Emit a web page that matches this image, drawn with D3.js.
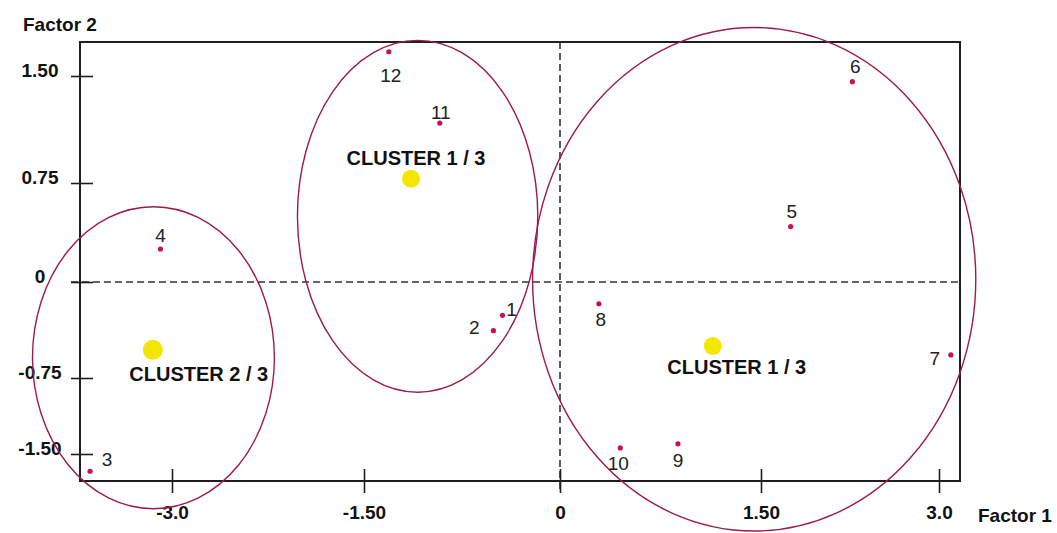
<!DOCTYPE html>
<html>
<head>
<meta charset="utf-8">
<script src="https://cdn.jsdelivr.net/npm/d3@7"></script>
<style>
  html, body { margin: 0; padding: 0; background: #ffffff; }
  svg { display: block; }
</style>
</head>
<body>
<script>
// ---------------- DATA ----------------
const xTickValues = [-3, -1.5, 0, 1.5, 3];
const xTickLabels = ["-3.0", "-1.50", "0", "1.50", "3.0"];
const yTickValues = [-1.5, -0.75, 0, 0.75, 1.5];
const yTickLabels = ["-1.50", "-0.75", "0", "0.75", "1.50"];

const pointIds = ["1", "2", "3", "4", "5", "6", "7", "8", "9", "10", "11", "12"];
const factor1  = [-0.44, -0.51, -3.64, -3.09, 1.75, 2.27, 3.10, 0.29, 0.88, 0.45, -0.92, -1.31];
const factor2  = [-0.26, -0.38, -1.67, 0.25, 0.42, 1.46, -0.57, -0.17, -1.40, -1.44, 1.17, 1.67];

const clusterNames = ["CLUSTER 1 / 3", "CLUSTER 2 / 3", "CLUSTER 1 / 3"];
const clusterF1 = [-1.14, -3.15, 1.14];
const clusterF2 = [0.78, -0.53, -0.50];

// cluster boundary ellipses (extent in factor units)
const ellipseF1Min = [-2.02, -4.09, -0.21];
const ellipseF1Max = [-0.17, -2.20, 3.31];
const ellipseF2Min = [-0.89, -2.04, -2.26];
const ellipseF2Max = [1.75, 0.57, 1.84];

const xAxisTitle = "Factor 1";
const yAxisTitle = "Factor 2";

// ---------------- LAYOUT ----------------
const W = 1057, H = 533;
const frame = { left: 80, right: 960, top: 42, bottom: 481 };
const xTickPx = [172, 364, 560, 761, 939];
const yTickPx = [454, 378, 282, 183, 76];
const FONT = "'Liberation Sans', Arial, Helvetica, sans-serif";

const pointLabelOffset = {
  "1": [9, 1], "2": [-19, 3], "3": [17, -5], "4": [0, -7], "5": [1, -9], "6": [3, -9],
  "7": [-16, 10], "8": [2, 22], "9": [0, 23], "10": [-2, 22], "11": [1, -4], "12": [2, 30]
};
const clusterLabelOffset = [[5, -14], [46, 31], [24, 28]];

// ---------------- SCALES ----------------
const x = d3.scaleLinear().domain(xTickValues).range(xTickPx);
const y = d3.scaleLinear().domain(yTickValues).range(yTickPx);

const svg = d3.select("body").append("svg")
  .attr("width", W).attr("height", H)
  .style("font-family", FONT);

// frame
svg.append("rect")
  .attr("x", frame.left).attr("y", frame.top)
  .attr("width", frame.right - frame.left)
  .attr("height", frame.bottom - frame.top)
  .attr("fill", "none")
  .attr("stroke", "#1e1e1e")
  .attr("stroke-width", 2);

// dashed zero lines
svg.append("line")
  .attr("x1", frame.left - 9).attr("x2", frame.right)
  .attr("y1", y(0)).attr("y2", y(0))
  .attr("stroke", "#333").attr("stroke-width", 1.6)
  .attr("stroke-dasharray", "7,4");
svg.append("line")
  .attr("x1", x(0)).attr("x2", x(0))
  .attr("y1", frame.top).attr("y2", frame.bottom + 12)
  .attr("stroke", "#333").attr("stroke-width", 1.6)
  .attr("stroke-dasharray", "7,4");

// y axis
const yAxis = d3.axisLeft(y)
  .tickValues(yTickValues)
  .tickFormat((d, i) => yTickLabels[i])
  .tickSize(9);
const gy = svg.append("g")
  .attr("transform", `translate(${frame.left},0)`)
  .call(yAxis);
gy.select(".domain").remove();
gy.selectAll(".tick line")
  .attr("x1", 13).attr("x2", -9)
  .attr("stroke", "#1e1e1e").attr("stroke-width", 1.6);
gy.selectAll(".tick text")
  .attr("x", -40).attr("dy", 0)
  .attr("text-anchor", "middle")
  .attr("fill", "#111")
  .style("font-family", FONT)
  .style("font-size", "19px")
  .style("font-weight", "bold");

// x axis
const xAxis = d3.axisBottom(x)
  .tickValues(xTickValues)
  .tickFormat((d, i) => xTickLabels[i])
  .tickSize(12);
const gx = svg.append("g")
  .attr("transform", `translate(0,${frame.bottom})`)
  .call(xAxis);
gx.select(".domain").remove();
gx.selectAll(".tick line")
  .attr("y1", -12).attr("y2", 12)
  .attr("stroke", "#1e1e1e").attr("stroke-width", 1.6);
gx.selectAll(".tick text")
  .attr("y", 38).attr("dy", 0)
  .attr("fill", "#111")
  .style("font-family", FONT)
  .style("font-size", "19px")
  .style("font-weight", "bold");

// axis titles
svg.append("text")
  .attr("x", 23).attr("y", 31)
  .attr("fill", "#111")
  .style("font-size", "19px").style("font-weight", "bold")
  .text(yAxisTitle);
svg.append("text")
  .attr("x", 978).attr("y", 522)
  .attr("fill", "#111")
  .style("font-size", "19px").style("font-weight", "bold")
  .text(xAxisTitle);

// ellipses
const ellipses = ellipseF1Min.map((d, i) => ({
  x0: x(ellipseF1Min[i]), x1: x(ellipseF1Max[i]),
  y0: y(ellipseF2Max[i]), y1: y(ellipseF2Min[i])
}));
svg.append("g").selectAll("ellipse")
  .data(ellipses)
  .join("ellipse")
  .attr("cx", d => (d.x0 + d.x1) / 2)
  .attr("cy", d => (d.y0 + d.y1) / 2)
  .attr("rx", d => (d.x1 - d.x0) / 2)
  .attr("ry", d => (d.y1 - d.y0) / 2)
  .attr("fill", "none")
  .attr("stroke", "#9b1b4f")
  .attr("stroke-width", 1.4);

// points
const points = pointIds.map((id, i) => ({ id, f1: factor1[i], f2: factor2[i] }));
svg.append("g").selectAll("circle")
  .data(points)
  .join("circle")
  .attr("cx", d => x(d.f1))
  .attr("cy", d => y(d.f2))
  .attr("r", 2.6)
  .attr("fill", "#c8124f");
svg.append("g").selectAll("text")
  .data(points)
  .join("text")
  .attr("x", d => x(d.f1) + pointLabelOffset[d.id][0])
  .attr("y", d => y(d.f2) + pointLabelOffset[d.id][1])
  .attr("text-anchor", "middle")
  .attr("fill", "#222")
  .style("font-size", "19px")
  .text(d => d.id);

// cluster centroids
const clusters = clusterNames.map((name, i) => ({ name, f1: clusterF1[i], f2: clusterF2[i], i }));
svg.append("g").selectAll("circle")
  .data(clusters)
  .join("circle")
  .attr("cx", d => x(d.f1))
  .attr("cy", d => y(d.f2))
  .attr("r", d => d.i === 1 ? 10 : 9)
  .attr("fill", "#f5e600");
svg.append("g").selectAll("text")
  .data(clusters)
  .join("text")
  .attr("x", d => x(d.f1) + clusterLabelOffset[d.i][0])
  .attr("y", d => y(d.f2) + clusterLabelOffset[d.i][1])
  .attr("text-anchor", "middle")
  .attr("fill", "#111")
  .style("font-size", "20px")
  .style("font-weight", "bold")
  .text(d => d.name);
</script>
</body>
</html>
